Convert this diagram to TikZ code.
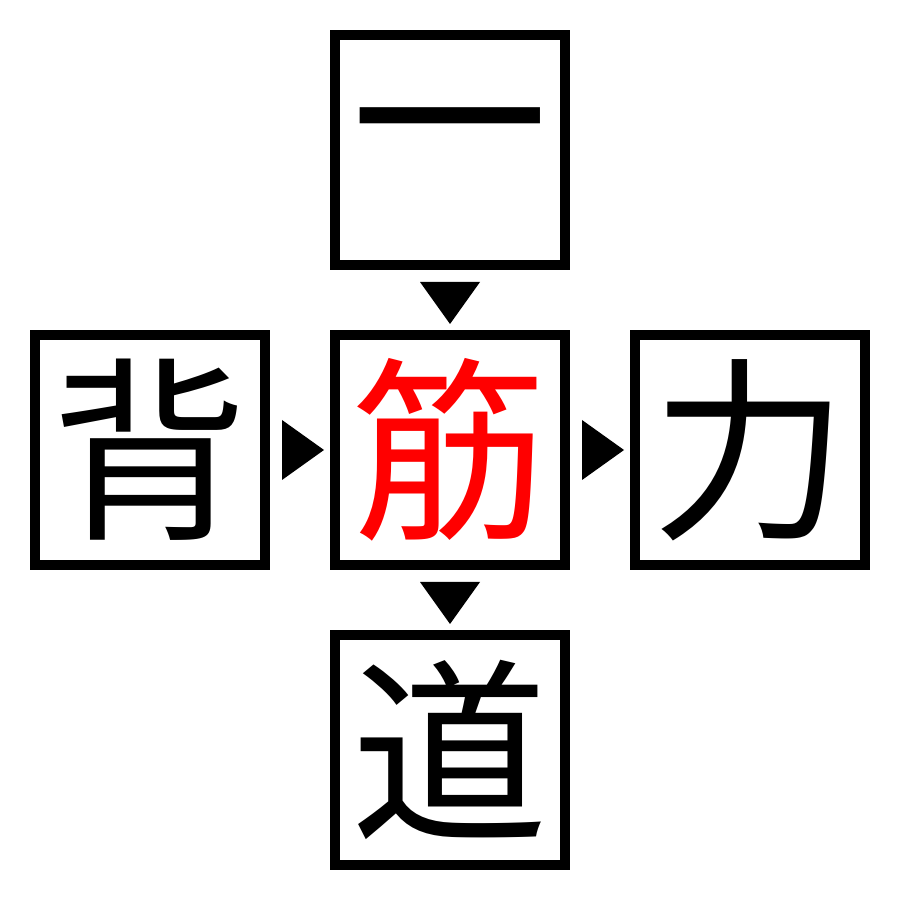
\documentclass[tikz,border=0pt]{standalone}
\usepackage{fontspec}
\newfontfamily\kanjifont{Noto Sans CJK JP}
\usetikzlibrary{calc}
\begin{document}
\begin{tikzpicture}[thick,
    kanjibox/.style={draw, line width=.1cm, minimum size=2.3cm, inner sep=0pt,
      font=\kanjifont\fontsize{56}{56}\selectfont},
    tri/.style={fill=black}]
    \useasboundingbox (0,0) rectangle (9,9);
    \node[kanjibox] (top) at (4.5,7.5) {一};
    \node[kanjibox] (left) at (1.5,4.5) {背};
    \node[kanjibox, text=red] (mid) at (4.5,4.5) {筋};
    \node[kanjibox] (right) at (7.5,4.5) {力};
    \node[kanjibox] (bottom) at (4.5,1.5) {道};
    % arrow heads between the boxes
    \foreach \a/\b in {top/mid, mid/bottom} {
      \fill[tri] ($(\a.south)!.5!(\b.north)$) ++(-.3,.18) -- ++(.6,0) -- ++(-.3,-.42) -- cycle;}
    \foreach \a/\b in {left/mid, mid/right} {
      \fill[tri] ($(\a.east)!.5!(\b.west)$) ++(-.18,.3) -- ++(0,-.6) -- ++(.42,.3) -- cycle;}
  \end{tikzpicture}
\end{document}
